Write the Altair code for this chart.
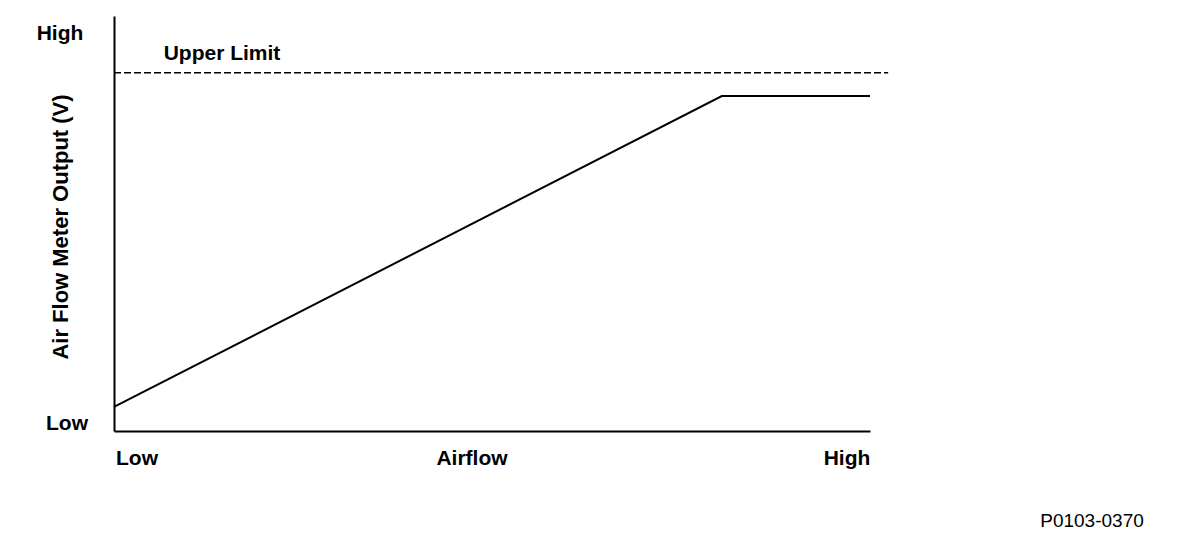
import altair as alt
import pandas as pd

# Sensor response: output rises linearly with airflow, then saturates
airflow = [0.0, 80.4, 100.0]
output = [5.8, 80.7, 80.7]

# Upper limit reference line
limit_level = [86.3]
limit_start = [0.0]
limit_end = [102.4]

FONT = "Liberation Sans"

curve_df = pd.DataFrame({"airflow": airflow, "output": output})
limit_df = pd.DataFrame({"y": limit_level, "x": limit_start, "x2": limit_end})

xscale = alt.Scale(domain=[0, 100], nice=False, zero=False)
yscale = alt.Scale(domain=[0, 100], nice=False, zero=False)

axis_x = alt.Axis(title=None, labels=False, ticks=False, grid=False,
                  domainColor="black", domainWidth=2)
axis_y = alt.Axis(title=None, labels=False, ticks=False, grid=False,
                  domainColor="black", domainWidth=2)

curve = alt.Chart(curve_df).mark_line(color="black", strokeWidth=2).encode(
    x=alt.X("airflow:Q", scale=xscale, axis=axis_x),
    y=alt.Y("output:Q", scale=yscale, axis=axis_y),
)

limit = alt.Chart(limit_df).mark_rule(
    color="black", strokeWidth=1.5, strokeDash=[7, 3]
).encode(
    x=alt.X("x:Q", scale=xscale),
    x2="x2:Q",
    y=alt.Y("y:Q", scale=yscale),
)


def label(text, x, y, size=21, weight="bold", angle=0, baseline="alphabetic"):
    return alt.Chart(pd.DataFrame({"t": [text]})).mark_text(
        font=FONT, fontSize=size, fontWeight=weight, color="black",
        align="center", baseline=baseline, angle=angle,
    ).encode(x=alt.value(x), y=alt.value(y), text="t:N")


labels = [
    label("High", -54, 24),
    label("Low", -47, 414),
    label("Low", 23, 449),
    label("Airflow", 358, 449),
    label("High", 733, 449),
    label("Upper Limit", 108, 44),
    label("Air Flow Meter Output (V)", -53, 211, size=22, angle=270,
          baseline="middle"),
    label("P0103-0370", 978, 511, size=19, weight="normal"),
]

chart = alt.layer(curve, limit, *labels).properties(
    width=756,
    height=415,
    autosize=alt.AutoSizeParams(type="none"),
    padding={"left": 114, "top": 16, "right": 314, "bottom": 111},
    background="white",
).configure_view(stroke=None)

chart.save("out.html", embed_options={"renderer": "svg", "actions": False})
